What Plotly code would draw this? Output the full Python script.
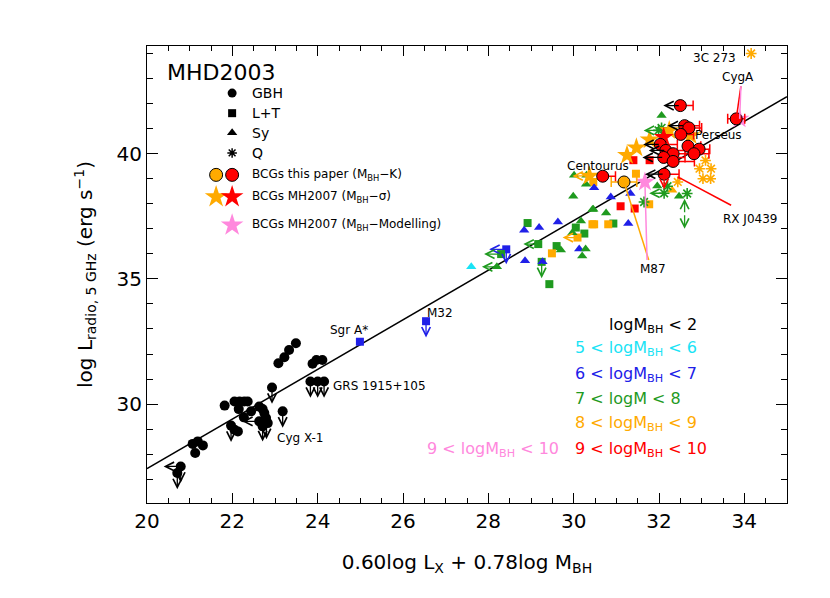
import plotly.graph_objects as go

# colours of the mass bins
BLACK = "black"
CYAN = "#19e3f5"
BLUE = "#2020e8"
GREEN = "#1f9a1f"
ORANGE = "#ffaa00"
RED = "#ff0000"
PINK = "#ff88dd"

# --- data: x = 0.60 log Lx + 0.78 log M_BH, y = log L_radio ---
# GBH (black circles)
gbh_x = [23.49, 23.33, 23.22, 23.08, 23.88, 23.97, 24.11, 23.83, 24.00, 24.15,
         22.93, 23.18, 21.82, 22.05, 22.17, 22.28, 22.36, 22.15, 22.27, 22.44,
         22.63, 22.71, 22.75, 22.79, 22.83, 22.71, 21.97, 22.05, 22.13, 22.63,
         21.07, 21.19, 21.31, 21.13, 20.79, 20.71]
gbh_y = [32.43, 32.16, 31.87, 31.63, 31.61, 31.76, 31.76, 30.90, 30.90, 30.90,
         30.66, 29.71, 29.94, 30.10, 30.10, 30.10, 30.10, 29.80, 29.47, 29.71,
         29.90, 29.80, 29.64, 29.44, 29.24, 29.11, 29.14, 28.98, 28.91, 29.31,
         28.41, 28.51, 28.35, 28.05, 27.51, 27.25]

# L+T (squares)
lt_blue_x = [24.99, 26.54, 28.42]
lt_blue_y = [32.49, 33.31, 36.18]
lt_green_x = [28.92, 29.17, 29.60, 30.25, 30.93, 28.30, 29.43, 29.25, 30.05]
lt_green_y = [37.23, 36.39, 36.31, 36.81, 37.21, 35.99, 34.79, 35.68, 37.05]
lt_orange_x = [30.44, 30.81, 29.49, 30.09, 31.77, 31.46, 30.46, 30.48]
lt_orange_y = [37.18, 37.18, 36.02, 36.65, 37.98, 39.20, 38.87, 37.18]
lt_red_x = [31.10, 31.43, 31.40, 31.78]
lt_red_y = [37.90, 37.81, 39.74, 39.74]

# Sy (triangles)
sy_cyan_x = [27.60]
sy_cyan_y = [35.48]
sy_blue_x = [28.86, 28.84, 29.19, 29.63, 30.13, 30.87, 31.28, 30.48, 29.27, 31.33]
sy_blue_y = [35.72, 36.94, 37.05, 37.27, 36.19, 38.27, 37.21, 38.64, 35.68, 38.41]
sy_green_x = [29.99, 30.17, 30.44, 30.76, 29.97, 29.70, 30.28, 30.20, 28.20, 30.01,
              30.30, 32.06, 30.29, 31.96, 32.47, 30.46]
sy_green_y = [38.30, 37.31, 37.77, 37.63, 36.84, 36.15, 36.19, 35.91, 35.48, 39.14,
              39.14, 41.52, 38.78, 38.71, 38.30, 37.78]
sy_orange_x = [32.31]
sy_orange_y = [38.54]

# Q (asterisks)
q_green_x = [32.06, 32.20, 32.66, 31.65, 31.99, 32.12]
q_green_y = [41.03, 38.70, 38.41, 38.07, 40.93, 38.42]
q_orange_x = [34.16, 33.09, 32.95, 33.22, 33.03, 33.21, 32.44]
q_orange_y = [44.00, 39.73, 39.40, 39.40, 39.00, 39.00, 38.87]

# BCGs this paper (M_BH-K)
bcg_orange_x = [31.18]
bcg_orange_y = [38.87]
bcg_orange_err = [0.3]
bcg_red_x = [32.50, 32.60, 32.70, 32.51, 32.03, 32.16, 32.33, 32.68, 32.94, 32.82,
             32.11, 32.33, 32.12, 30.68, 33.81]
bcg_red_y = [41.92, 41.12, 41.03, 40.77, 40.37, 40.13, 40.00, 40.30, 40.18, 40.00,
             39.85, 39.69, 39.18, 39.10, 41.39]
bcg_red_errp = [0.30, 0.35, 0.30, 0.30, 0.40, 0.45, 0.50, 0.30, 0.25, 0.35,
                0.50, 0.50, 0.35, 0.30, 0.20]
bcg_red_errm = [0, 0, 0, 0, 0, 0, 0, 0, 0, 0, 0, 0, 0, 0, 0.20]

# BCGs MH2007
mh_orange_x = [32.24, 32.74, 31.78, 31.47, 31.25, 30.37]
mh_orange_y = [40.93, 40.73, 40.56, 40.24, 39.94, 39.11]
mh_red_x = [32.11]
mh_red_y = [40.66]
mh_pink_x = [31.67, 33.89]
mh_pink_y = [38.87, 41.39]

# upper limits: x, y, dx, dy, colour
limits = [
    (23.83, 30.90, 0, -0.65, BLACK), (24.00, 30.90, 0, -0.65, BLACK),
    (24.15, 30.90, 0, -0.65, BLACK), (22.93, 30.66, 0, -0.65, BLACK),
    (23.18, 29.71, 0, -0.65, BLACK), (21.97, 29.14, 0, -0.65, BLACK),
    (20.79, 27.51, 0, -0.65, BLACK), (20.79, 27.51, -0.4, 0, BLACK),
    (20.71, 27.25, 0, -0.65, BLACK), (22.63, 29.31, -0.4, 0, BLACK),
    (22.71, 29.11, 0, -0.6, BLACK), (22.80, 29.20, 0, -0.6, BLACK),
    (26.54, 33.31, 0, -0.65, BLUE), (28.42, 36.18, -0.4, 0, BLUE),
    (28.42, 36.18, 0, -0.6, BLUE), (28.30, 35.99, -0.4, 0, GREEN),
    (28.20, 35.48, -0.35, 0, GREEN), (29.17, 36.39, -0.35, 0, GREEN),
    (29.25, 35.68, 0, -0.65, GREEN), (30.09, 36.65, -0.35, 0, ORANGE),
    (30.37, 39.11, -0.4, 0, ORANGE), (31.99, 40.93, -0.35, 0, GREEN),
    (32.12, 38.42, -0.35, 0, GREEN), (32.60, 37.60, 0, 0.6, GREEN),
    (32.60, 37.60, 0, -0.6, GREEN), (32.12, 39.18, 0, -0.6, RED),
    (32.50, 41.92, -0.4, 0, BLACK), (32.60, 41.12, -0.4, 0, BLACK),
    (32.03, 40.37, -0.4, 0, BLACK), (32.11, 39.85, -0.5, 0, BLACK),
    (32.16, 40.13, -0.4, 0, BLACK), (32.12, 39.18, -0.45, 0, BLACK),
]

# best fit
fit_x = [20, 35]
fit_y = [27.42, 42.28]

fig = go.Figure()
fig.add_trace(go.Scatter(x=fit_x, y=fit_y, mode="lines",
                         line=dict(color="black", width=1.5)))


def add_points(x, y, symbol, color, size, edge=None, **kw):
    marker = dict(symbol=symbol, color=color, size=size)
    if symbol == "asterisk":
        marker["line"] = dict(color=color, width=1.6)
    elif edge:
        marker["line"] = dict(color=edge, width=1)
    else:
        marker["line"] = dict(width=0)
    fig.add_trace(go.Scatter(x=x, y=y, mode="markers", marker=marker, **kw))


add_points(gbh_x, gbh_y, "circle", BLACK, 10)
add_points(lt_blue_x, lt_blue_y, "square", BLUE, 8)
add_points(lt_green_x, lt_green_y, "square", GREEN, 8)
add_points(lt_orange_x, lt_orange_y, "square", ORANGE, 8)
add_points(lt_red_x, lt_red_y, "square", RED, 8)
add_points(sy_cyan_x, sy_cyan_y, "triangle-up", CYAN, 9)
add_points(sy_blue_x, sy_blue_y, "triangle-up", BLUE, 9)
add_points(sy_green_x, sy_green_y, "triangle-up", GREEN, 9)
add_points(sy_orange_x, sy_orange_y, "triangle-up", ORANGE, 9)
add_points(q_green_x, q_green_y, "asterisk", GREEN, 9)
add_points(q_orange_x, q_orange_y, "asterisk", ORANGE, 9)
add_points(mh_orange_x, mh_orange_y, "star", ORANGE, 15)
add_points(mh_red_x, mh_red_y, "star", RED, 15)
add_points(mh_pink_x, mh_pink_y, "star", PINK, 15)
add_points(bcg_orange_x, bcg_orange_y, "circle", ORANGE, 12, edge="black",
           error_x=dict(type="data", array=bcg_orange_err, color=ORANGE,
                        thickness=1.5, width=5))
add_points(bcg_red_x, bcg_red_y, "circle", RED, 12, edge="black",
           error_x=dict(type="data", symmetric=False, array=bcg_red_errp,
                        arrayminus=bcg_red_errm, color=RED, thickness=1.5, width=5))

annotations = []
for x0, y0, dx, dy, col in limits:
    annotations.append(dict(x=x0 + dx, y=y0 + dy, ax=x0, ay=y0, xref="x", yref="y",
                            axref="x", ayref="y", text="", showarrow=True,
                            arrowhead=5, arrowsize=1.3, arrowwidth=1.3,
                            arrowcolor=col))

# leader lines to labels
leaders = [
    (33.81, 41.39, 33.92, 42.70, RED), (33.89, 41.39, 33.92, 42.70, PINK),
    (31.18, 38.87, 31.76, 35.75, ORANGE), (31.67, 38.87, 31.72, 35.75, PINK),
    (32.44, 39.07, 33.69, 37.94, RED),
]
shapes = [dict(type="line", x0=a, y0=b, x1=c, y1=d, xref="x", yref="y",
               line=dict(color=col, width=1.5)) for a, b, c, d, col in leaders]

labels = [
    ("Sgr A*", 24.74, 32.96, "center"), ("M32", 26.86, 33.64, "center"),
    ("GRS 1915+105", 24.31, 30.73, "left"), ("Cyg X-1", 23.0, 28.66, "left"),
    ("Centourus", 30.57, 39.50, "center"), ("M87", 31.86, 35.40, "center"),
    ("RX J0439", 34.13, 37.38, "center"), ("CygA", 33.85, 43.05, "center"),
    ("3C 273", 33.29, 43.84, "center"), ("Perseus", 33.40, 40.73, "center"),
]
for txt, lx, ly, anc in labels:
    annotations.append(dict(x=lx, y=ly, xref="x", yref="y", text=txt, showarrow=False,
                            xanchor=anc, font=dict(size=12, color="black")))

# key (drawn on an overlay axis 0..1)
key_syms = [
    (0.133, 0.897, "circle", BLACK, 9), (0.133, 0.853, "square", BLACK, 8),
    (0.133, 0.810, "triangle-up", BLACK, 9), (0.133, 0.766, "asterisk", BLACK, 8),
    (0.108, 0.718, "circle", ORANGE, 13), (0.133, 0.718, "circle", RED, 13),
    (0.108, 0.670, "star", ORANGE, 17), (0.133, 0.670, "star", RED, 17),
    (0.133, 0.608, "star", PINK, 17),
]
for kx, ky, ks, kc, kz in key_syms:
    mk = dict(symbol=ks, color=kc, size=kz)
    if ks == "asterisk":
        mk["line"] = dict(color=kc, width=1.5)
    elif ks == "circle" and kc != BLACK:
        mk["line"] = dict(color="black", width=1)
    else:
        mk["line"] = dict(width=0)
    fig.add_trace(go.Scatter(x=[kx], y=[ky], mode="markers", marker=mk,
                             xaxis="x2", yaxis="y2"))

key_text = [
    ("GBH", 0.897, 14), ("L+T", 0.853, 14), ("Sy", 0.810, 14), ("Q", 0.766, 14),
    ("BCGs this paper (M<sub>BH</sub>\u2212K)", 0.718, 12),
    ("BCGs MH2007 (M<sub>BH</sub>\u2212\u03c3)", 0.670, 12),
    ("BCGs MH2007 (M<sub>BH</sub>\u2212Modelling)", 0.608, 12),
]
for txt, ky, fs in key_text:
    annotations.append(dict(x=0.161, y=ky, xref="paper", yref="paper", text=txt,
                            showarrow=False, xanchor="left", yanchor="middle",
                            font=dict(size=fs, color="black")))
annotations.append(dict(x=0.028, y=0.943, xref="paper", yref="paper", text="MHD2003",
                        showarrow=False, xanchor="left", yanchor="middle",
                        font=dict(size=22, color="black")))

bins = [
    ("logM<sub>BH</sub> < 2", 0.719, 0.389, BLACK),
    ("5 < logM<sub>BH</sub> < 6", 0.666, 0.337, CYAN),
    ("6 < logM<sub>BH</sub> < 7", 0.666, 0.282, BLUE),
    ("7 < logM < 8", 0.666, 0.228, GREEN),
    ("8 < logM<sub>BH</sub> < 9", 0.666, 0.173, ORANGE),
    ("9 < logM<sub>BH</sub> < 10", 0.666, 0.118, RED),
    ("9 < logM<sub>BH</sub> < 10", 0.434, 0.118, PINK),
]
for txt, bx, by, col in bins:
    annotations.append(dict(x=bx, y=by, xref="paper", yref="paper", text=txt,
                            showarrow=False, xanchor="left", yanchor="middle",
                            font=dict(size=16, color=col)))

axis_common = dict(showline=True, linecolor="black", linewidth=1, mirror="allticks",
                   ticks="inside", tickcolor="black", showgrid=False, zeroline=False,
                   tickfont=dict(size=20, color="black"))
# page body adds an 8px offset, so the figure is 8px smaller on each side
fig.update_layout(
    width=822, height=590,
    margin=dict(l=139, r=43, t=38, b=95),
    paper_bgcolor="white", plot_bgcolor="white",
    showlegend=False,
    font=dict(family="DejaVu Sans", color="black"),
    xaxis=dict(range=[20, 35], dtick=2, tick0=20, ticklen=10,
               minor=dict(dtick=0.5, ticklen=5, ticks="inside", tickcolor="black"),
               title=dict(text="0.60log L<sub>X</sub> + 0.78log M<sub>BH</sub>",
                          font=dict(size=20), standoff=22),
               **axis_common),
    yaxis=dict(range=[26.05, 44.3], dtick=5, tick0=30, ticklen=11,
               minor=dict(dtick=1, ticklen=6, ticks="inside", tickcolor="black"),
               title=dict(text="log L<sub>radio, 5 GHz</sub> (erg s<sup>\u22121</sup>)",
                          font=dict(size=20), standoff=18),
               **axis_common),
    xaxis2=dict(range=[0, 1], overlaying="x", visible=False),
    yaxis2=dict(range=[0, 1], overlaying="y", visible=False),
    annotations=annotations,
    shapes=shapes,
)

fig.write_html("out.html")
